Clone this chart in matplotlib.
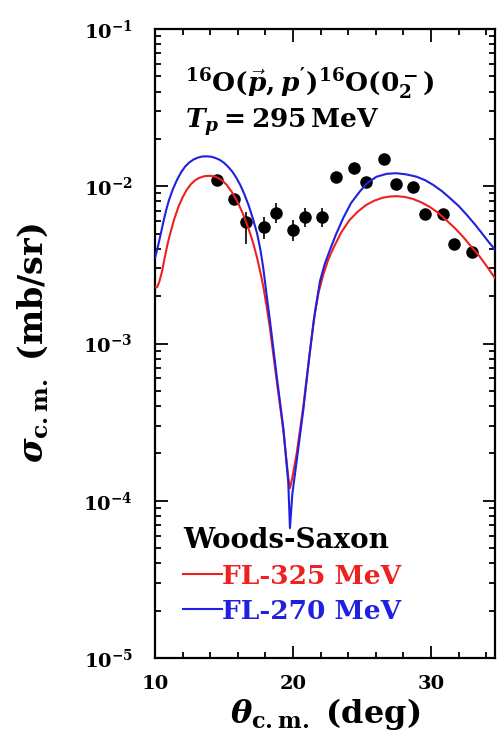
import matplotlib
matplotlib.use("Agg")
import matplotlib.pyplot as plt
from matplotlib.ticker import MultipleLocator, LogLocator, NullFormatter

# Measured cross sections 16O(p,p')16O(0-2), Tp = 295 MeV
theta_exp = [14.5, 15.7, 16.6, 17.9, 18.8, 20.0, 20.9, 22.1, 23.1, 24.4,
             25.3, 26.6, 27.5, 28.7, 29.6, 30.9, 31.7, 33.0]
sigma_exp = [0.0110, 0.0083, 0.0059, 0.0055, 0.0068, 0.0053, 0.0064, 0.0064,
             0.0114, 0.0130, 0.0107, 0.0148, 0.0104, 0.0099, 0.0067, 0.0067,
             0.0043, 0.0038]
err_lo = [0.0007, 0.0006, 0.0016, 0.0009, 0.0010, 0.0008, 0.0009, 0.0009,
          0.0008, 0.0009, 0.0008, 0.0010, 0.0007, 0.0007, 0.0005, 0.0005,
          0.0003, 0.0003]
err_hi = [0.0007, 0.0006, 0.0010, 0.0009, 0.0010, 0.0008, 0.0009, 0.0009,
          0.0008, 0.0009, 0.0008, 0.0010, 0.0007, 0.0007, 0.0005, 0.0005,
          0.0003, 0.0003]

# Woods-Saxon DWIA results, Franey-Love interaction at 325 MeV
theta_fl325 = [10.0, 10.15, 10.3, 10.5, 10.7, 10.9, 11.1, 11.4, 11.7, 12.0,
               12.3, 12.6, 12.9, 13.2, 13.6, 14.0, 14.4, 14.8, 15.2, 15.6,
               16.0, 16.4, 16.8, 17.1, 17.4, 17.65, 17.85, 18.1, 18.33, 18.82,
               19.3, 19.66, 19.78, 19.95, 20.27, 20.75, 21.2, 21.5, 21.85, 22.2,
               22.55, 22.9, 23.5, 24.1, 24.7, 25.3, 25.9, 26.5, 27.0, 27.5,
               28.1, 28.7, 29.3, 29.9, 30.5, 31.1, 31.7, 32.3, 32.9, 33.5,
               34.1, 34.64]
sigma_fl325 = [2.3e-3, 2.28e-3, 2.45e-3, 2.85e-3, 3.5e-3, 4.25e-3, 5.0e-3, 6.2e-3,
               7.4e-3, 8.5e-3, 9.5e-3, 1.03e-2, 1.09e-2, 1.13e-2, 1.16e-2, 1.165e-2,
               1.15e-2, 1.10e-2, 1.02e-2, 9.1e-3, 7.9e-3, 6.6e-3, 5.3e-3, 4.4e-3,
               3.5e-3, 2.8e-3, 2.3e-3, 1.7e-3, 1.25e-3, 5.8e-4, 2.8e-4, 1.4e-4,
               1.2e-4, 1.4e-4, 2.0e-4, 4.0e-4, 8.5e-4, 1.4e-3, 2.1e-3, 2.75e-3,
               3.4e-3, 4.0e-3, 5.1e-3, 6.1e-3, 6.9e-3, 7.6e-3, 8.1e-3, 8.45e-3,
               8.6e-3, 8.65e-3, 8.55e-3, 8.3e-3, 7.9e-3, 7.4e-3, 6.8e-3, 6.1e-3,
               5.45e-3, 4.8e-3, 4.15e-3, 3.6e-3, 3.05e-3, 2.6e-3]

# Woods-Saxon DWIA results, Franey-Love interaction at 270 MeV
theta_fl270 = [10.0, 10.2, 10.4, 10.6, 10.8, 11.0, 11.3, 11.6, 11.9, 12.2,
               12.5, 12.8, 13.1, 13.4, 13.75, 14.1, 14.4, 14.7, 15.0, 15.3,
               15.6, 15.9, 16.2, 16.5, 16.8, 17.1, 17.4, 17.65, 17.85, 18.1,
               18.33, 18.82, 19.3, 19.66, 19.78, 19.95, 20.27, 20.75, 21.2, 21.6,
               21.96, 22.3, 22.68, 23.1, 23.65, 24.2, 24.86, 25.4, 26.06, 26.8,
               27.5, 28.2, 28.96, 29.6, 30.16, 30.8, 31.38, 32.0, 32.58, 33.2,
               33.79, 34.2, 34.64]
sigma_fl270 = [3.5e-3, 4.1e-3, 4.9e-3, 5.9e-3, 7.0e-3, 8.1e-3, 9.6e-3, 1.10e-2,
               1.23e-2, 1.34e-2, 1.42e-2, 1.48e-2, 1.52e-2, 1.545e-2, 1.55e-2, 1.54e-2,
               1.51e-2, 1.47e-2, 1.41e-2, 1.33e-2, 1.24e-2, 1.13e-2, 1.01e-2, 8.8e-3,
               7.5e-3, 6.2e-3, 5.0e-3, 3.9e-3, 3.0e-3, 2.0e-3, 1.4e-3, 6.2e-4,
               2.9e-4, 1.3e-4, 6.7e-5, 1.1e-4, 1.8e-4, 3.8e-4, 8.5e-4, 1.6e-3,
               2.5e-3, 3.2e-3, 3.94e-3, 4.9e-3, 6.3e-3, 7.8e-3, 9.3e-3, 1.05e-2,
               1.15e-2, 1.20e-2, 1.21e-2, 1.19e-2, 1.15e-2, 1.09e-2, 1.02e-2, 9.3e-3,
               8.4e-3, 7.5e-3, 6.6e-3, 5.7e-3, 4.9e-3, 4.4e-3, 3.95e-3]

x_ticks = [10, 20, 30]
y_ticks = [1e-5, 1e-4, 1e-3, 1e-2, 1e-1]
y_tick_labels = [r"$10^{-5}$", r"$10^{-4}$", r"$10^{-3}$", r"$10^{-2}$", r"$10^{-1}$"]

plt.rcParams.update({
    "font.family": "DejaVu Serif",
    "font.weight": "bold",
    "axes.labelweight": "bold",
    "mathtext.fontset": "custom",
    "mathtext.rm": "DejaVu Serif:bold",
    "mathtext.bf": "DejaVu Serif:bold",
    "mathtext.it": "DejaVu Serif:italic:bold",
})

RED = "#ee2020"
BLUE = "#2020e0"

fig = plt.figure(figsize=(4.97, 7.44), dpi=100)
ax = fig.add_axes([155 / 497, 86 / 744, 340 / 497, 629 / 744])

ax.errorbar(theta_exp, sigma_exp, yerr=[err_lo, err_hi], fmt="o", color="black",
            ms=8, elinewidth=1.2, capsize=0, zorder=2)
ax.plot(theta_fl325, sigma_fl325, color=RED, lw=1.5, zorder=3, label="FL-325 MeV")
ax.plot(theta_fl270, sigma_fl270, color=BLUE, lw=1.5, zorder=3, label="FL-270 MeV")

ax.set_yscale("log")
ax.set_xlim(10, 34.64)
ax.set_ylim(1e-5, 1e-1)
ax.set_xticks(x_ticks)
ax.set_xticklabels([str(t) for t in x_ticks])
ax.xaxis.set_minor_locator(MultipleLocator(2))
ax.set_yticks(y_ticks)
ax.set_yticklabels(y_tick_labels)
ax.yaxis.set_minor_locator(LogLocator(base=10, subs=range(2, 10), numticks=20))
ax.yaxis.set_minor_formatter(NullFormatter())

ax.tick_params(which="both", direction="in", top=True, right=True, width=1.3)
ax.tick_params(which="major", length=9, labelsize=14)
ax.tick_params(which="minor", length=4.5)
ax.tick_params(axis="x", which="major", pad=12)
ax.tick_params(axis="y", which="major", pad=16)
for s in ax.spines.values():
    s.set_linewidth(1.6)

ax.set_xlabel(r"$\theta_{\mathrm{c.m.}}$ (deg)", fontsize=23, fontweight="bold")
ax.xaxis.set_label_coords(0.5, -0.060)
ax.set_ylabel(r"$\sigma_{\mathrm{c.m.}}$ (mb/sr)", fontsize=24, fontweight="bold")
ax.yaxis.set_label_coords(-0.309, 0.5)

ax.text(0.088, 0.900, r"$^{16}\mathrm{O}(\vec{p},p^{\prime})^{16}\mathrm{O}(0_2^-)$",
        transform=ax.transAxes, fontsize=19, va="baseline", ha="left")
ax.text(0.088, 0.843, r"$T_p = 295\,\mathrm{MeV}$",
        transform=ax.transAxes, fontsize=19, va="baseline", ha="left")

leg = ax.legend(title="Woods-Saxon", loc="upper left", bbox_to_anchor=(0.082, 0.209),
                frameon=False, fontsize=19, title_fontsize=20, handlelength=1.5,
                handletextpad=0.0, borderpad=0, borderaxespad=0, labelspacing=0.38,
                alignment="left")
for txt, line in zip(leg.get_texts(), leg.get_lines()):
    txt.set_color(line.get_color())

fig.savefig("out.png", dpi=100)
